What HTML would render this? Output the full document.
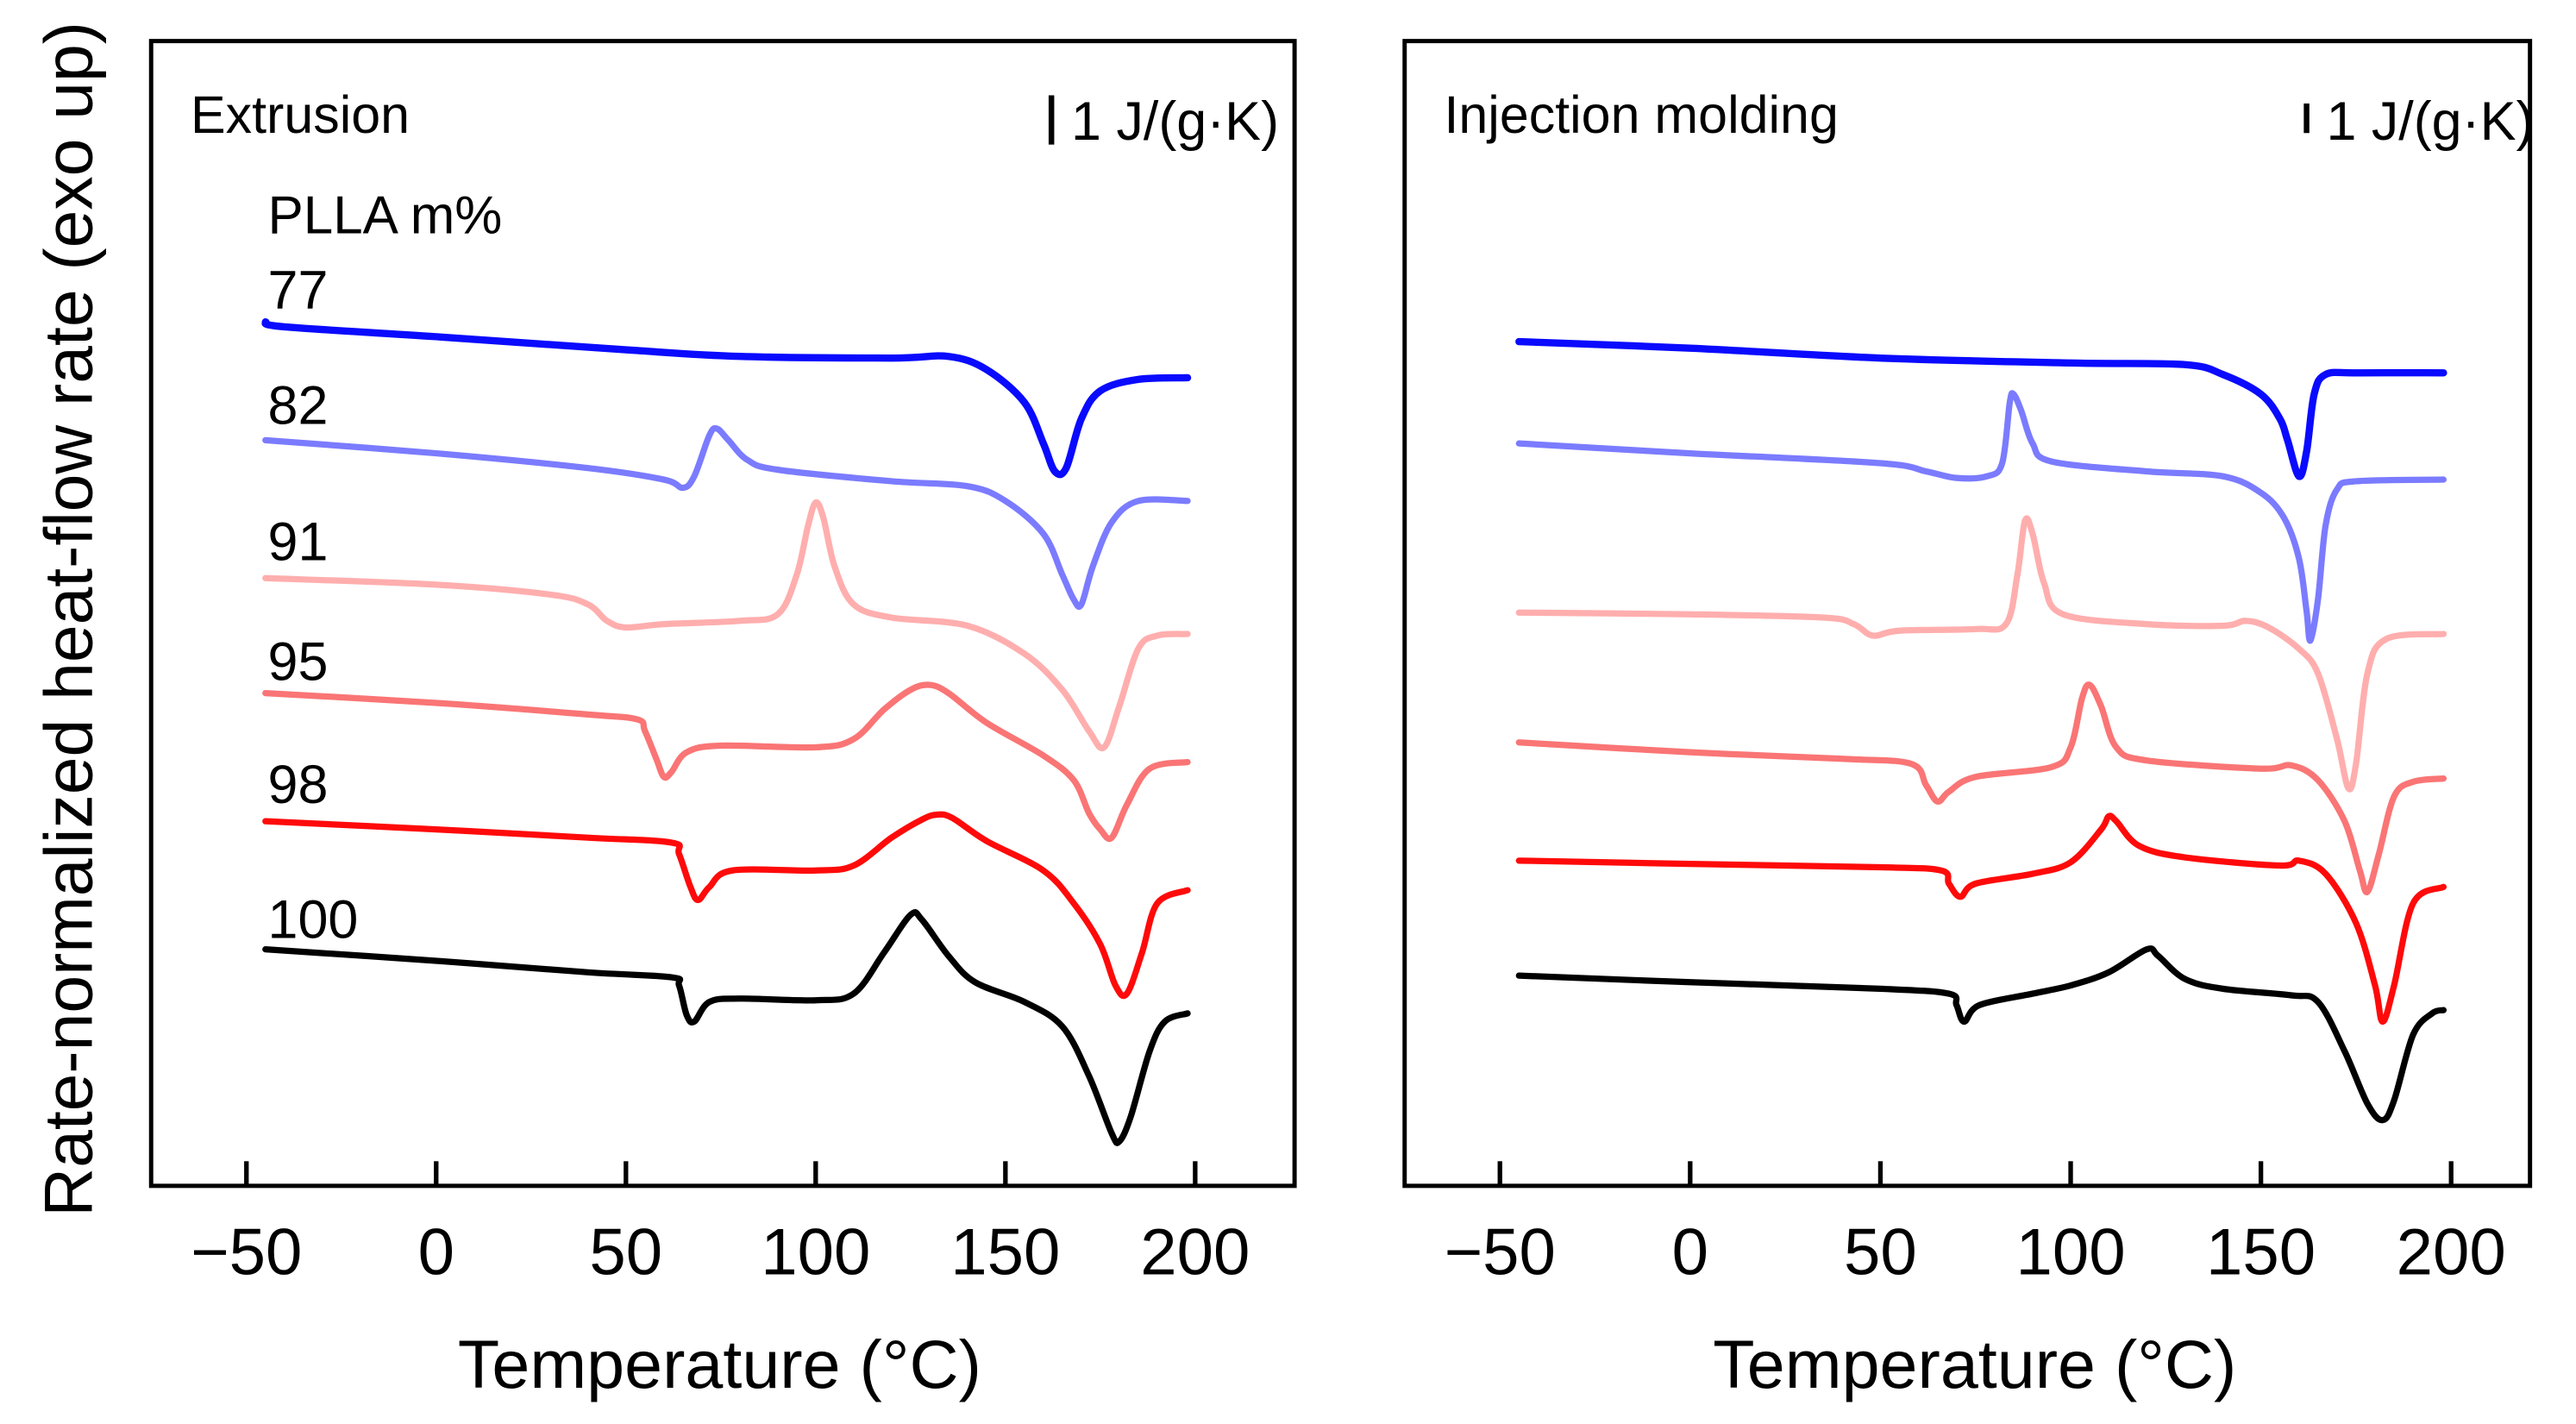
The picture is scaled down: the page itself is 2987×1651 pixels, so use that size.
<!DOCTYPE html>
<html><head><meta charset="utf-8"><style>
html,body{margin:0;padding:0;background:#fff;}
svg{display:block;}
text{font-family:"Liberation Sans",Arial,sans-serif;fill:#000;}
</style></head><body>
<svg id="chart" width="2987" height="1651" viewBox="0 0 1568 867" preserveAspectRatio="none" xmlns="http://www.w3.org/2000/svg">
<g id="left"></g>
<g id="right"></g>
<text transform="translate(56,377) rotate(-90)" text-anchor="middle" font-size="41.3">Rate-normalized heat-flow rate (exo up)</text>
</svg>
<script>
const xTicks = [-50, 0, 50, 100, 150, 200];
const sampleLabels = ["77", "82", "91", "95", "98", "100"];
const seriesColors = ["#0a0aff", "#7b7bff", "#ffaeae", "#fa7575", "#ff0a0a", "#000000"];
// heat-flow values (arbitrary offset units, exo up)
const extT77 = [-45,-40,0,50,80,120,135,145,155,160,163,166,170,175,185,198];
const extV77 = [-19.6,-19.9,-20.5,-21.3,-21.7,-21.8,-21.7,-22.5,-24.5,-27,-28.7,-28.5,-25.5,-23.8,-23.1,-23];
const extT82 = [-45,0,40,60,65,68,72,74,77,82,90,120,140,150,160,165,168,170,173,178,185,198];
const extV82 = [-26.8,-27.6,-28.5,-29.2,-29.7,-29,-26.5,-26.1,-26.8,-28,-28.6,-29.3,-29.6,-30.5,-32.5,-35,-36.5,-36.8,-34.5,-31.8,-30.5,-30.5];
const extT91 = [-45,0,30,40,45,50,60,80,90,95,98,100,102,105,110,120,140,155,165,172,176,180,185,190,198];
const extV91 = [-35.2,-35.6,-36.2,-36.8,-37.8,-38.2,-38,-37.8,-37.4,-35,-32,-30.6,-31.5,-34.5,-36.8,-37.6,-38.1,-39.8,-42,-44.5,-45.5,-43,-39.5,-38.7,-38.6];
const extT95 = [-45,0,40,53,55,58,60,62,66,75,100,110,118,125,130,135,145,160,168,172,175,178,182,188,198];
const extV95 = [-42.2,-42.8,-43.5,-43.8,-44.5,-46.2,-47.3,-47,-45.8,-45.4,-45.5,-45,-43.2,-42,-41.7,-42.2,-44,-46,-47.5,-49.5,-50.5,-51,-49,-46.8,-46.4];
const extT98 = [-45,0,40,62,64,67,69,72,78,100,110,120,128,132,136,145,160,168,175,179,182,186,190,198];
const extV98 = [-50,-50.5,-51,-51.3,-52,-54,-54.8,-54,-53,-53,-52.7,-51,-49.9,-49.6,-49.8,-51.2,-53,-55,-57.5,-60,-60.5,-58,-55,-54.2];
const extT100 = [-45,0,40,62,64,66,68,72,80,100,110,118,125,128,135,142,155,165,172,178,180,183,188,192,198];
const extV100 = [-57.8,-58.5,-59.2,-59.5,-60,-61.8,-62.2,-61,-60.8,-60.9,-60.5,-58,-55.7,-56,-58.2,-59.8,-61,-62.5,-65.5,-69,-69.5,-68,-64,-62.2,-61.7];
const injT77 = [-45,0,50,100,130,140,150,155,157,160,162,164,167,175,198];
const injV77 = [-20.8,-21.2,-21.8,-22.1,-22.2,-22.8,-24,-25.5,-26.8,-29,-27.5,-24,-22.8,-22.7,-22.7];
const injT82 = [-45,0,50,62,70,78,82,84,85,87,90,95,120,140,150,156,160,162,163,165,167,170,175,198];
const injV82 = [-27,-27.6,-28.2,-28.7,-29.1,-29,-28.2,-24.5,-24,-25,-27,-28.1,-28.7,-29,-30,-31.5,-34,-37.2,-39,-36.5,-32,-29.8,-29.3,-29.2];
const injT91 = [-45,0,35,43,48,55,75,83,86,88,90,93,98,120,140,146,152,160,165,170,173,175,178,183,198];
const injV91 = [-37.3,-37.4,-37.6,-38,-38.7,-38.4,-38.3,-38,-35,-31.7,-32.5,-35.5,-37.4,-38,-38.1,-37.8,-38.2,-39.5,-41,-45,-48,-46.5,-41,-38.9,-38.6];
const injT95 = [-45,0,40,58,62,65,68,75,95,100,103,105,108,112,120,150,158,165,172,176,178,181,185,190,198];
const injV95 = [-45.2,-45.8,-46.2,-46.5,-47.8,-48.8,-48.2,-47.3,-46.7,-45.5,-42.5,-41.7,-43,-45.5,-46.3,-46.8,-46.6,-47.5,-50,-53,-54.3,-52,-48.5,-47.6,-47.4];
const injT98 = [-45,0,50,66,68,71,75,90,100,108,110,112,118,130,155,160,167,175,180,182,185,190,198];
const injV98 = [-52.4,-52.6,-52.8,-53,-53.8,-54.6,-53.8,-53.2,-52.5,-50.5,-49.7,-50,-51.5,-52.2,-52.7,-52.4,-53.2,-56.2,-60,-62.2,-60,-55,-54];
const injT100 = [-45,0,50,68,70,72,76,90,100,110,120,123,130,140,158,165,172,178,182,185,190,195,198];
const injV100 = [-59.4,-59.8,-60.2,-60.5,-61.2,-62.2,-61.2,-60.5,-60,-59.2,-57.8,-58.2,-59.6,-60.2,-60.6,-61,-64,-67.2,-68.2,-67,-63,-61.7,-61.5];

const NS = "http://www.w3.org/2000/svg";
function mk(tag, attrs, parent){const e=document.createElementNS(NS,tag);for(const k in attrs)e.setAttribute(k,attrs[k]);parent.appendChild(e);return e;}
function smoothPath(pts){
  let d="M"+pts[0][0].toFixed(2)+","+pts[0][1].toFixed(2);
  for(let i=0;i<pts.length-1;i++){
    const p0=pts[Math.max(i-1,0)],p1=pts[i],p2=pts[i+1],p3=pts[Math.min(i+2,pts.length-1)];
    const c1=[p1[0]+(p2[0]-p0[0])/6,p1[1]+(p2[1]-p0[1])/6];
    const c2=[p2[0]-(p3[0]-p1[0])/6,p2[1]-(p3[1]-p1[1])/6];
    d+=" C"+c1[0].toFixed(2)+","+c1[1].toFixed(2)+" "+c2[0].toFixed(2)+","+c2[1].toFixed(2)+" "+p2[0].toFixed(2)+","+p2[1].toFixed(2);
  }
  return d;
}
function drawPanel(g, cfg, series){
  const xS = t => cfg.x0 + (t + 50) * cfg.kx;
  const yS = v => -v * 10;
  const fr = mk("rect",{x:cfg.L,y:25,width:cfg.R-cfg.L,height:697,fill:"none",stroke:"#000","stroke-width":2.6},g);
  
  
  xTicks.forEach(t=>{
    const tk=mk("line",{x1:xS(t),x2:xS(t),y1:722,y2:707,stroke:"#000","stroke-width":2.8},g);
    
    
    const lb=mk("text",{x:xS(t),y:776,"text-anchor":"middle","font-size":40},g);
    lb.textContent = t<0 ? "\u2212"+Math.abs(t) : String(t);
    
    
  });
  const xt=mk("text",{x:cfg.xtc,y:845,"text-anchor":"middle","font-size":41.5},g);
  xt.textContent="Temperature (\u00b0C)";
  
  
  const tt=mk("text",{x:cfg.L+24,y:81,"font-size":32},g);
  tt.textContent=cfg.title;
  
  
  const sb=mk("line",{x1:cfg.barX,x2:cfg.barX,y1:cfg.barY1,y2:cfg.barY2,stroke:"#000","stroke-width":3.4},g);
  
  
  const st=mk("text",{x:cfg.barX+12,y:85,"font-size":33},g);
  st.textContent="1 J/(g\u00b7K)";
  
  
  series.forEach((s,i)=>{
    const pts=s[0].map((t,j)=>[xS(t),yS(s[1][j])]);
    const p=mk("path",{d:smoothPath(pts),fill:"none",stroke:seriesColors[i],"stroke-width":i===0?4.4:3.8,"stroke-linejoin":"round","stroke-linecap":"round"},g);
    
    
  });
}
drawPanel(document.getElementById("left"),
  {L:92,R:788,x0:150,kx:2.31,xtc:438,title:"Extrusion",barX:640,barY1:58,barY2:88},
  [[extT77,extV77],[extT82,extV82],[extT91,extV91],[extT95,extV95],[extT98,extV98],[extT100,extV100]]);
drawPanel(document.getElementById("right"),
  {L:855,R:1540,x0:913,kx:2.316,xtc:1202,title:"Injection molding",barX:1404,barY1:63,barY2:81},
  [[injT77,injV77],[injT82,injV82],[injT91,injV91],[injT95,injV95],[injT98,injV98],[injT100,injV100]]);
const lg=document.getElementById("left");
const pl=mk("text",{x:163,y:142,"font-size":32.5},lg);
pl.textContent="PLLA m%";


const labelY=[188,258,341,414,489,571];
sampleLabels.forEach((s,i)=>{
  const t=mk("text",{x:163,y:labelY[i],"font-size":33},lg);
  t.textContent=s;
  
  
});
</script>
</body></html>
